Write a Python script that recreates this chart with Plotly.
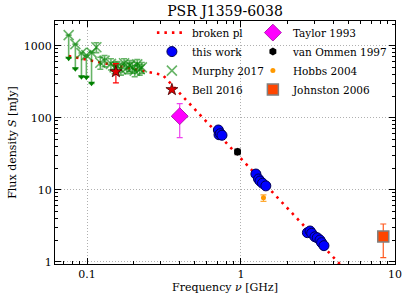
import plotly.graph_objects as go

# ---- data ----
pl_freq = [0.076, 0.31, 4.4]
pl_flux = [720, 392, 0.92]

this_freq = [0.713, 0.72, 0.735, 0.753, 1.25, 1.30, 1.33, 1.38, 1.45,
             2.70, 2.81, 2.88, 3.02, 3.13, 3.26, 3.34, 3.46]
this_flux = [67.5, 58, 60, 57, 16.5, 14.1, 13.2, 12.3, 11.3,
             2.53, 2.67, 2.48, 2.22, 2.15, 2.00, 1.84, 1.67]

murphy_freq = [0.076, 0.084, 0.092, 0.099, 0.107, 0.115, 0.122, 0.130, 0.143, 0.151,
               0.158, 0.166, 0.174, 0.181, 0.189, 0.197, 0.204, 0.212, 0.220, 0.227]
murphy_flux = [1400, 1050, 790, 740, 800, 950, 580, 620, 560, 500,
               510, 470, 570, 490, 530, 500, 450, 550, 470, 500]
murphy_err = [0, 0, 0, 0, 0, 150, 110, 110, 100, 90,
              90, 80, 90, 80, 90, 85, 80, 90, 80, 85]
murphy_lim_freq = [0.076, 0.084, 0.092, 0.099, 0.107]
murphy_lim = [670, 480, 370, 365, 300]

bell_freq = [0.154]
bell_flux = [435]
bell_err = [130]

taylor_freq = [0.40]
taylor_flux = [105]
taylor_err = [52]

vanommen_freq = [0.95]
vanommen_flux = [33.7]
vanommen_err = [3]

hobbs_freq = [1.40]
hobbs_flux = [7.7]
hobbs_err = [0.8]

johnston_freq = [8.4]
johnston_flux = [2.24]
johnston_err = [1.1]

x_ticks = [0.1, 1, 10]
x_ticktext = ["0.1", "1", "10"]
y_ticks = [1, 10, 100, 1000]
y_ticktext = ["1", "10", "100", "1000"]

FONT = "DejaVu Serif"

murphy_minus = [murphy_flux[i] - (murphy_lim[i] if i < len(murphy_lim) else murphy_flux[i] - murphy_err[i])
                for i in range(len(murphy_flux))]

fig = go.Figure()

fig.add_trace(go.Scatter(x=pl_freq, y=pl_flux, mode="lines", name="broken pl",
                         line=dict(color="red", width=2.6, dash="2.5px,5px"),
                         legend="legend", legendrank=1))
fig.add_trace(go.Scatter(x=murphy_freq, y=murphy_flux, mode="markers", name="Murphy 2017",
                         marker=dict(symbol="x-thin", size=10,
                                     line=dict(color="rgba(0,130,0,0.6)", width=1.6)),
                         error_y=dict(type="data", array=murphy_err, arrayminus=murphy_minus,
                                      color="rgba(0,130,0,0.6)", thickness=1.6, width=3),
                         legend="legend", legendrank=3))
fig.add_trace(go.Scatter(x=murphy_lim_freq, y=murphy_lim, mode="markers", showlegend=False,
                         marker=dict(symbol="triangle-down", size=6, color="green")))
fig.add_trace(go.Scatter(x=this_freq, y=this_flux, mode="markers", name="this work",
                         marker=dict(symbol="circle", size=10, color="#0000ff",
                                     line=dict(color="#000055", width=1)),
                         legend="legend", legendrank=2))
fig.add_trace(go.Scatter(x=bell_freq, y=bell_flux, mode="markers", name="Bell 2016",
                         marker=dict(symbol="star", size=9, color="#e00000",
                                     line=dict(color="#400000", width=0.8)),
                         error_y=dict(type="data", array=bell_err, color="red",
                                      thickness=1.2, width=3),
                         legend="legend", legendrank=4))
fig.add_trace(go.Scatter(x=taylor_freq, y=taylor_flux, mode="markers", name="Taylor 1993",
                         marker=dict(symbol="diamond", size=13, color="#ff00ff",
                                     line=dict(color="#a000a0", width=0.8)),
                         error_y=dict(type="data", array=taylor_err, color="#ee44ee",
                                      thickness=1.2, width=3),
                         legend="legend2", legendrank=1))
fig.add_trace(go.Scatter(x=vanommen_freq, y=vanommen_flux, mode="markers", name="van Ommen 1997",
                         marker=dict(symbol="hexagon", size=8, color="black"),
                         error_y=dict(type="data", array=vanommen_err, color="black",
                                      thickness=1.2, width=3),
                         legend="legend2", legendrank=2))
fig.add_trace(go.Scatter(x=hobbs_freq, y=hobbs_flux, mode="markers", name="Hobbs 2004",
                         marker=dict(symbol="circle", size=5, color="#ff9900"),
                         error_y=dict(type="data", array=hobbs_err, color="#ffaa33",
                                      thickness=1.2, width=3),
                         legend="legend2", legendrank=3))
fig.add_trace(go.Scatter(x=johnston_freq, y=johnston_flux, mode="markers", name="Johnston 2006",
                         marker=dict(symbol="square", size=11, color="#ff4500",
                                     line=dict(color="#808080", width=1.5)),
                         error_y=dict(type="data", array=johnston_err, color="#ff5a20",
                                      thickness=1.2, width=3),
                         legend="legend2", legendrank=4))

minor_x = [m * 10 ** e for e in (-2, -1, 0) for m in range(2, 10)]
minor_y = [m * 10 ** e for e in (-1, 0, 1, 2, 3) for m in range(2, 10)]

axis_common = dict(type="log", showline=True, linecolor="black", linewidth=1, mirror="ticks",
                   ticks="inside", ticklen=6, tickwidth=1, tickcolor="black",
                   showgrid=True, gridcolor="#b0b0b0", griddash="1px,2px", gridwidth=1,
                   zeroline=False, automargin=False,
                   tickfont=dict(family=FONT, size=11, color="black"))

fig.update_xaxes(**axis_common, range=[-1.208, 1.0005], tickmode="array",
                 tickvals=x_ticks, ticktext=x_ticktext,
                 minor=dict(tickmode="array", tickvals=minor_x, ticks="inside", ticklen=3,
                            tickcolor="black", showgrid=False),
                 title=dict(text="Frequency <i>ν</i> [GHz]", standoff=2,
                            font=dict(family=FONT, size=11, color="black")))
fig.update_yaxes(**axis_common, range=[-0.032, 3.343], tickmode="array",
                 tickvals=y_ticks, ticktext=y_ticktext,
                 minor=dict(tickmode="array", tickvals=minor_y, ticks="inside", ticklen=3,
                            tickcolor="black", showgrid=False),
                 title=dict(text="Flux density <i>S</i> [mJy]", standoff=4,
                            font=dict(family=FONT, size=11, color="black")))

legend_common = dict(bgcolor="rgba(0,0,0,0)", borderwidth=0, yanchor="top", xanchor="left",
                     font=dict(family=FONT, size=10.5, color="black"), traceorder="normal",
                     itemclick=False)
fig.update_layout(
    width=407, height=301,
    margin=dict(l=55, r=12, t=21, b=37, autoexpand=False),
    paper_bgcolor="white", plot_bgcolor="white",
    font=dict(family=FONT, color="black"),
    title=dict(text="PSR J1359-6038", x=0.5, xref="paper", y=0.963, yanchor="middle",
               automargin=False, font=dict(family=FONT, size=14, color="black")),
    legend=dict(x=0.285, y=1.012, **legend_common),
    legend2=dict(x=0.582, y=1.012, **legend_common),
)

fig.write_html("out.html", config={"displayModeBar": False},
               post_script="document.body.style.margin='0';document.body.style.overflow='hidden';")
